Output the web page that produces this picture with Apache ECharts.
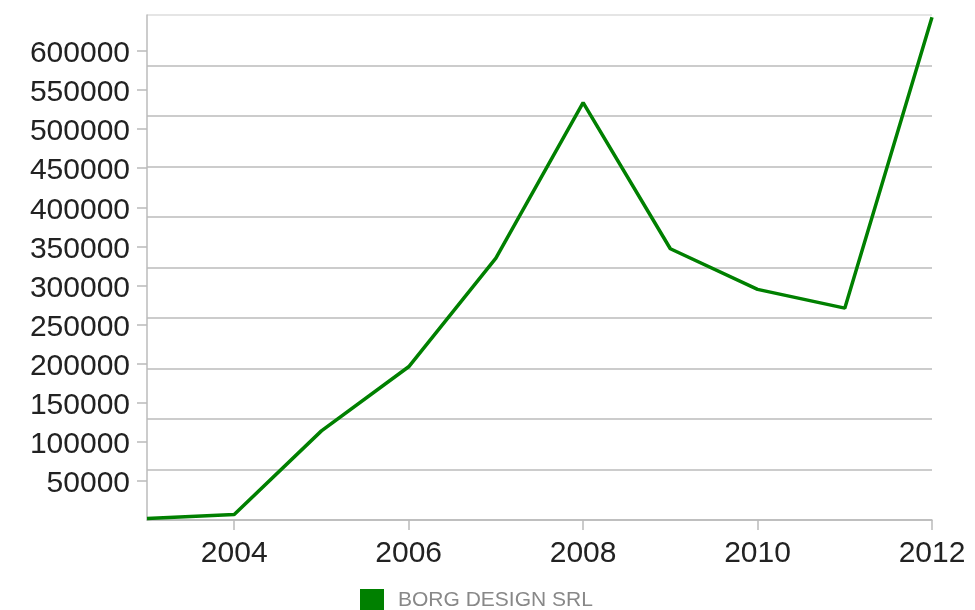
<!DOCTYPE html>
<html>
<head>
<meta charset="utf-8">
<script src="https://cdn.jsdelivr.net/npm/echarts@6/dist/echarts.min.js"></script>
<style>
html,body{margin:0;padding:0;background:#fff;}
#chart{width:975px;height:610px;}
</style>
</head>
<body>
<div id="chart"></div>
<script>
const years = ['2003','2004','2005','2006','2007','2008','2009','2010','2011','2012'];
const seriesName = 'BORG DESIGN SRL';
const values = [2000, 7000, 114000, 196000, 335000, 534000, 347000, 295000, 271000, 643000];
const yTickLabels = [50000, 100000, 150000, 200000, 250000, 300000, 350000, 400000, 450000, 500000, 550000, 600000];
const yMax = 646000;

const chart = echarts.init(document.getElementById('chart'), null, {renderer: 'canvas'});
const everyOther = (idx) => idx % 2 === 1;
const gridColors = ['#bbb','#bbb','#bbb','#bbb','#bbb','#bbb','#bbb','#bbb','#bbb','#bbb','#ddd'];

chart.setOption({
  animation: false,
  textStyle: {fontFamily: 'Liberation Sans, Arial, sans-serif'},
  grid: {left: 147, right: 43, top: 15, bottom: 90, containLabel: false},
  legend: {
    data: [seriesName],
    left: 360, top: 589, padding: 0,
    icon: 'rect', itemWidth: 24, itemHeight: 22,
    textStyle: {fontSize: 21, color: '#888', padding: [0,0,0,9]}
  },
  xAxis: {
    type: 'category', data: years, boundaryGap: false,
    axisLine: {show: true, lineStyle: {color: '#bbb', width: 1.5}},
    axisTick: {show: true, interval: everyOther, length: 10, lineStyle: {color: '#bbb', width: 1.5}},
    axisLabel: {interval: everyOther, fontSize: 30, color: '#222', margin: 19},
    splitLine: {show: false}
  },
  yAxis: [
    {
      type: 'value', min: 0, max: yMax,
      axisLine: {show: true, lineStyle: {color: '#bbb', width: 1.5}},
      axisTick: {show: true, length: 10, customValues: yTickLabels, lineStyle: {color: '#bbb', width: 1.5}},
      axisLabel: {customValues: yTickLabels, fontSize: 30, color: '#222', margin: 17,
        verticalAlign: 'top', lineHeight: 30, padding: [-12,0,0,0], formatter: (v) => String(v)},
      splitLine: {show: false}
    },
    {
      type: 'value', min: 0, max: yMax, interval: yMax / 10, position: 'left',
      axisLine: {show: false}, axisTick: {show: false}, axisLabel: {show: false},
      splitLine: {show: true, lineStyle: {color: gridColors, width: 1.5}}
    }
  ],
  series: [{
    name: seriesName, type: 'line', data: values, yAxisIndex: 0,
    showSymbol: false, symbol: 'none',
    lineStyle: {color: '#008000', width: 3.5},
    itemStyle: {color: '#008000'},
    z: 5
  }]
});
</script>
</body>
</html>
